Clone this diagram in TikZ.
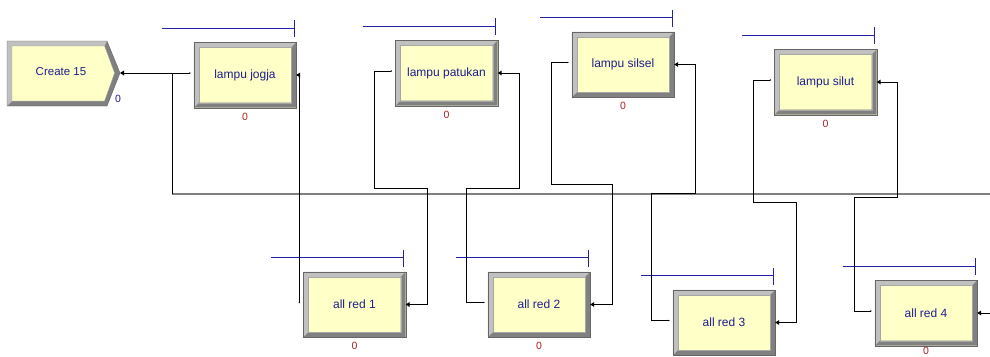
\documentclass[tikz,border=0pt]{standalone}
\usepackage{fontspec}
\setmainfont{Liberation Sans}
\definecolor{boxfill}{RGB}{255,255,200}
\definecolor{bevlight}{RGB}{192,192,192}
\definecolor{bevdark}{RGB}{128,128,128}
\definecolor{txtblue}{RGB}{30,30,140}
\definecolor{cntred}{RGB}{165,35,35}
\definecolor{qblue}{RGB}{35,35,165}
\tikzset{
  abox/.style={rectangle, fill=boxfill, minimum width=102pt, minimum height=65pt, inner sep=0pt, text=txtblue, font=\fontsize{12}{14}\selectfont},
  conn/.style={draw=black, line width=0.8pt},
  longline/.style={draw=gray, line width=1.5pt},
  qline/.style={draw=qblue, line width=0.8pt},
  cnt/.style={font=\fontsize{10.5}{12}\selectfont, text=cntred, inner sep=0pt},
  frameline/.style={draw=bevdark!80!black, line width=0.4pt},
  innerline/.style={draw=gray!70, line width=0.3pt}
}
\newcommand\arenabox[4]{%
  \node[abox] (#1) at (#2,#3) {#4};
  \fill[bevlight] (#1.north west) -- (#1.north east) -- ([shift={(-5pt,-5pt)}]#1.north east) -- ([shift={(5pt,-5pt)}]#1.north west) -- ([shift={(5pt,5pt)}]#1.south west) -- (#1.south west) -- cycle;
  \fill[bevdark] (#1.south east) -- (#1.north east) -- ([shift={(-5pt,-5pt)}]#1.north east) -- ([shift={(-5pt,5pt)}]#1.south east) -- ([shift={(5pt,5pt)}]#1.south west) -- (#1.south west) -- cycle;
  \draw[frameline] (#1.south west) rectangle (#1.north east);
  \draw[innerline] ([shift={(5pt,5pt)}]#1.south west) rectangle ([shift={(-5pt,-5pt)}]#1.north east);
  \draw[qline] ([shift={(-32pt,14pt)}]#1.north west) -- ([shift={(-2pt,14pt)}]#1.north east);
  \draw[qline] ([shift={(-2pt,22pt)}]#1.north east) -- ([shift={(-2pt,5pt)}]#1.north east);
  \coordinate (#1-in) at ([shift={(-4pt,2pt)}]#1.west);
  \coordinate (#1-out) at ([shift={(1pt,0pt)}]#1.east);
  \fill (#1-in) circle (0.8pt);
  \fill (#1.east) -- ++(4pt,2.5pt) -- ++(0pt,-5pt) -- cycle;
}
\newcommand\arenacnt[2]{\node[cnt] (#1-cnt) at ([yshift=-#2]#1.south) {0};}
\begin{document}
\begin{tikzpicture}[x=1pt,y=-1pt]
\useasboundingbox (0,0) rectangle (990,356);
\clip (0,0) rectangle (990,356);
\fill[white] (0,0) rectangle (990,356);

% Create module
\fill[bevdark] (7,41) -- (107,41) -- (120,73) -- (107,106) -- (7,106) -- cycle;
\fill[bevlight] (7,41) -- (107,41) -- (104.5,46) -- (12,46) -- (12,101) -- (7,106) -- cycle;
\fill[boxfill] (12,46) -- (104.5,46) -- (114.5,73) -- (104.5,101) -- (12,101) -- cycle;
\draw[frameline] (7,41) -- (107,41) -- (120,73) -- (107,106) -- (7,106) -- cycle;
\draw[innerline] (12,46) -- (104.5,46) -- (114.5,73) -- (104.5,101) -- (12,101) -- cycle;
\node[text=txtblue, font=\fontsize{11.5}{13}\selectfont, inner sep=0pt] (create) at (61,72) {Create 15};
\node[cnt, text=txtblue] (create-cnt) at (118,99) {0};
\coordinate (create-out) at (121,73);
\fill (120,73) -- ++(4pt,2.5pt) -- ++(0pt,-5pt) -- cycle;

% Process modules
\arenabox{jogja}{245}{75}{lampu jogja}
\arenabox{patukan}{446.5}{73}{lampu patukan}
\arenabox{silsel}{623}{64.5}{lampu silsel}
\arenabox{silut}{825.5}{82}{lampu silut}
\arenabox{red1}{354.5}{304.5}{all red 1}
\arenabox{red2}{539}{304.5}{all red 2}
\arenabox{red3}{724}{322.5}{all red 3}
\arenabox{red4}{926}{313}{all red 4}
\arenacnt{jogja}{9pt}
\arenacnt{patukan}{9pt}
\arenacnt{silsel}{9pt}
\arenacnt{silut}{9pt}
\arenacnt{red1}{9pt}
\arenacnt{red2}{9pt}
\arenacnt{red4}{5.5pt}

\coordinate (e0) at (992,194);
\coordinate (e4) at (992,313);

% Connectors
\draw[longline] (e0) -- (172,194);
\draw[conn] (172,194) |- (jogja-in);
\draw[conn] (create-out) -- (jogja-in);
\draw[conn] (jogja-out) -| (red1-in);
\draw[conn] (red1-out) -| (427,188) -- (374,188) |- (patukan-in);
\draw[conn] (patukan-out) -| (519,188) -- (466,188) |- (red2-in);
\draw[conn] (red2-out) -| (612,184) -- (551,184) |- (silsel-in);
\draw[conn] (silsel-out) -| (695,193) -- (651,193) |- (red3-in);
\draw[conn] (red3-out) -| (796,202) -- (753,202) |- (silut-in);
\draw[conn] (silut-out) -| (897,197) -- (854,197) |- (red4-in);
\draw[conn] (red4-out) -- (red4-out -| e4);
\end{tikzpicture}
\end{document}
